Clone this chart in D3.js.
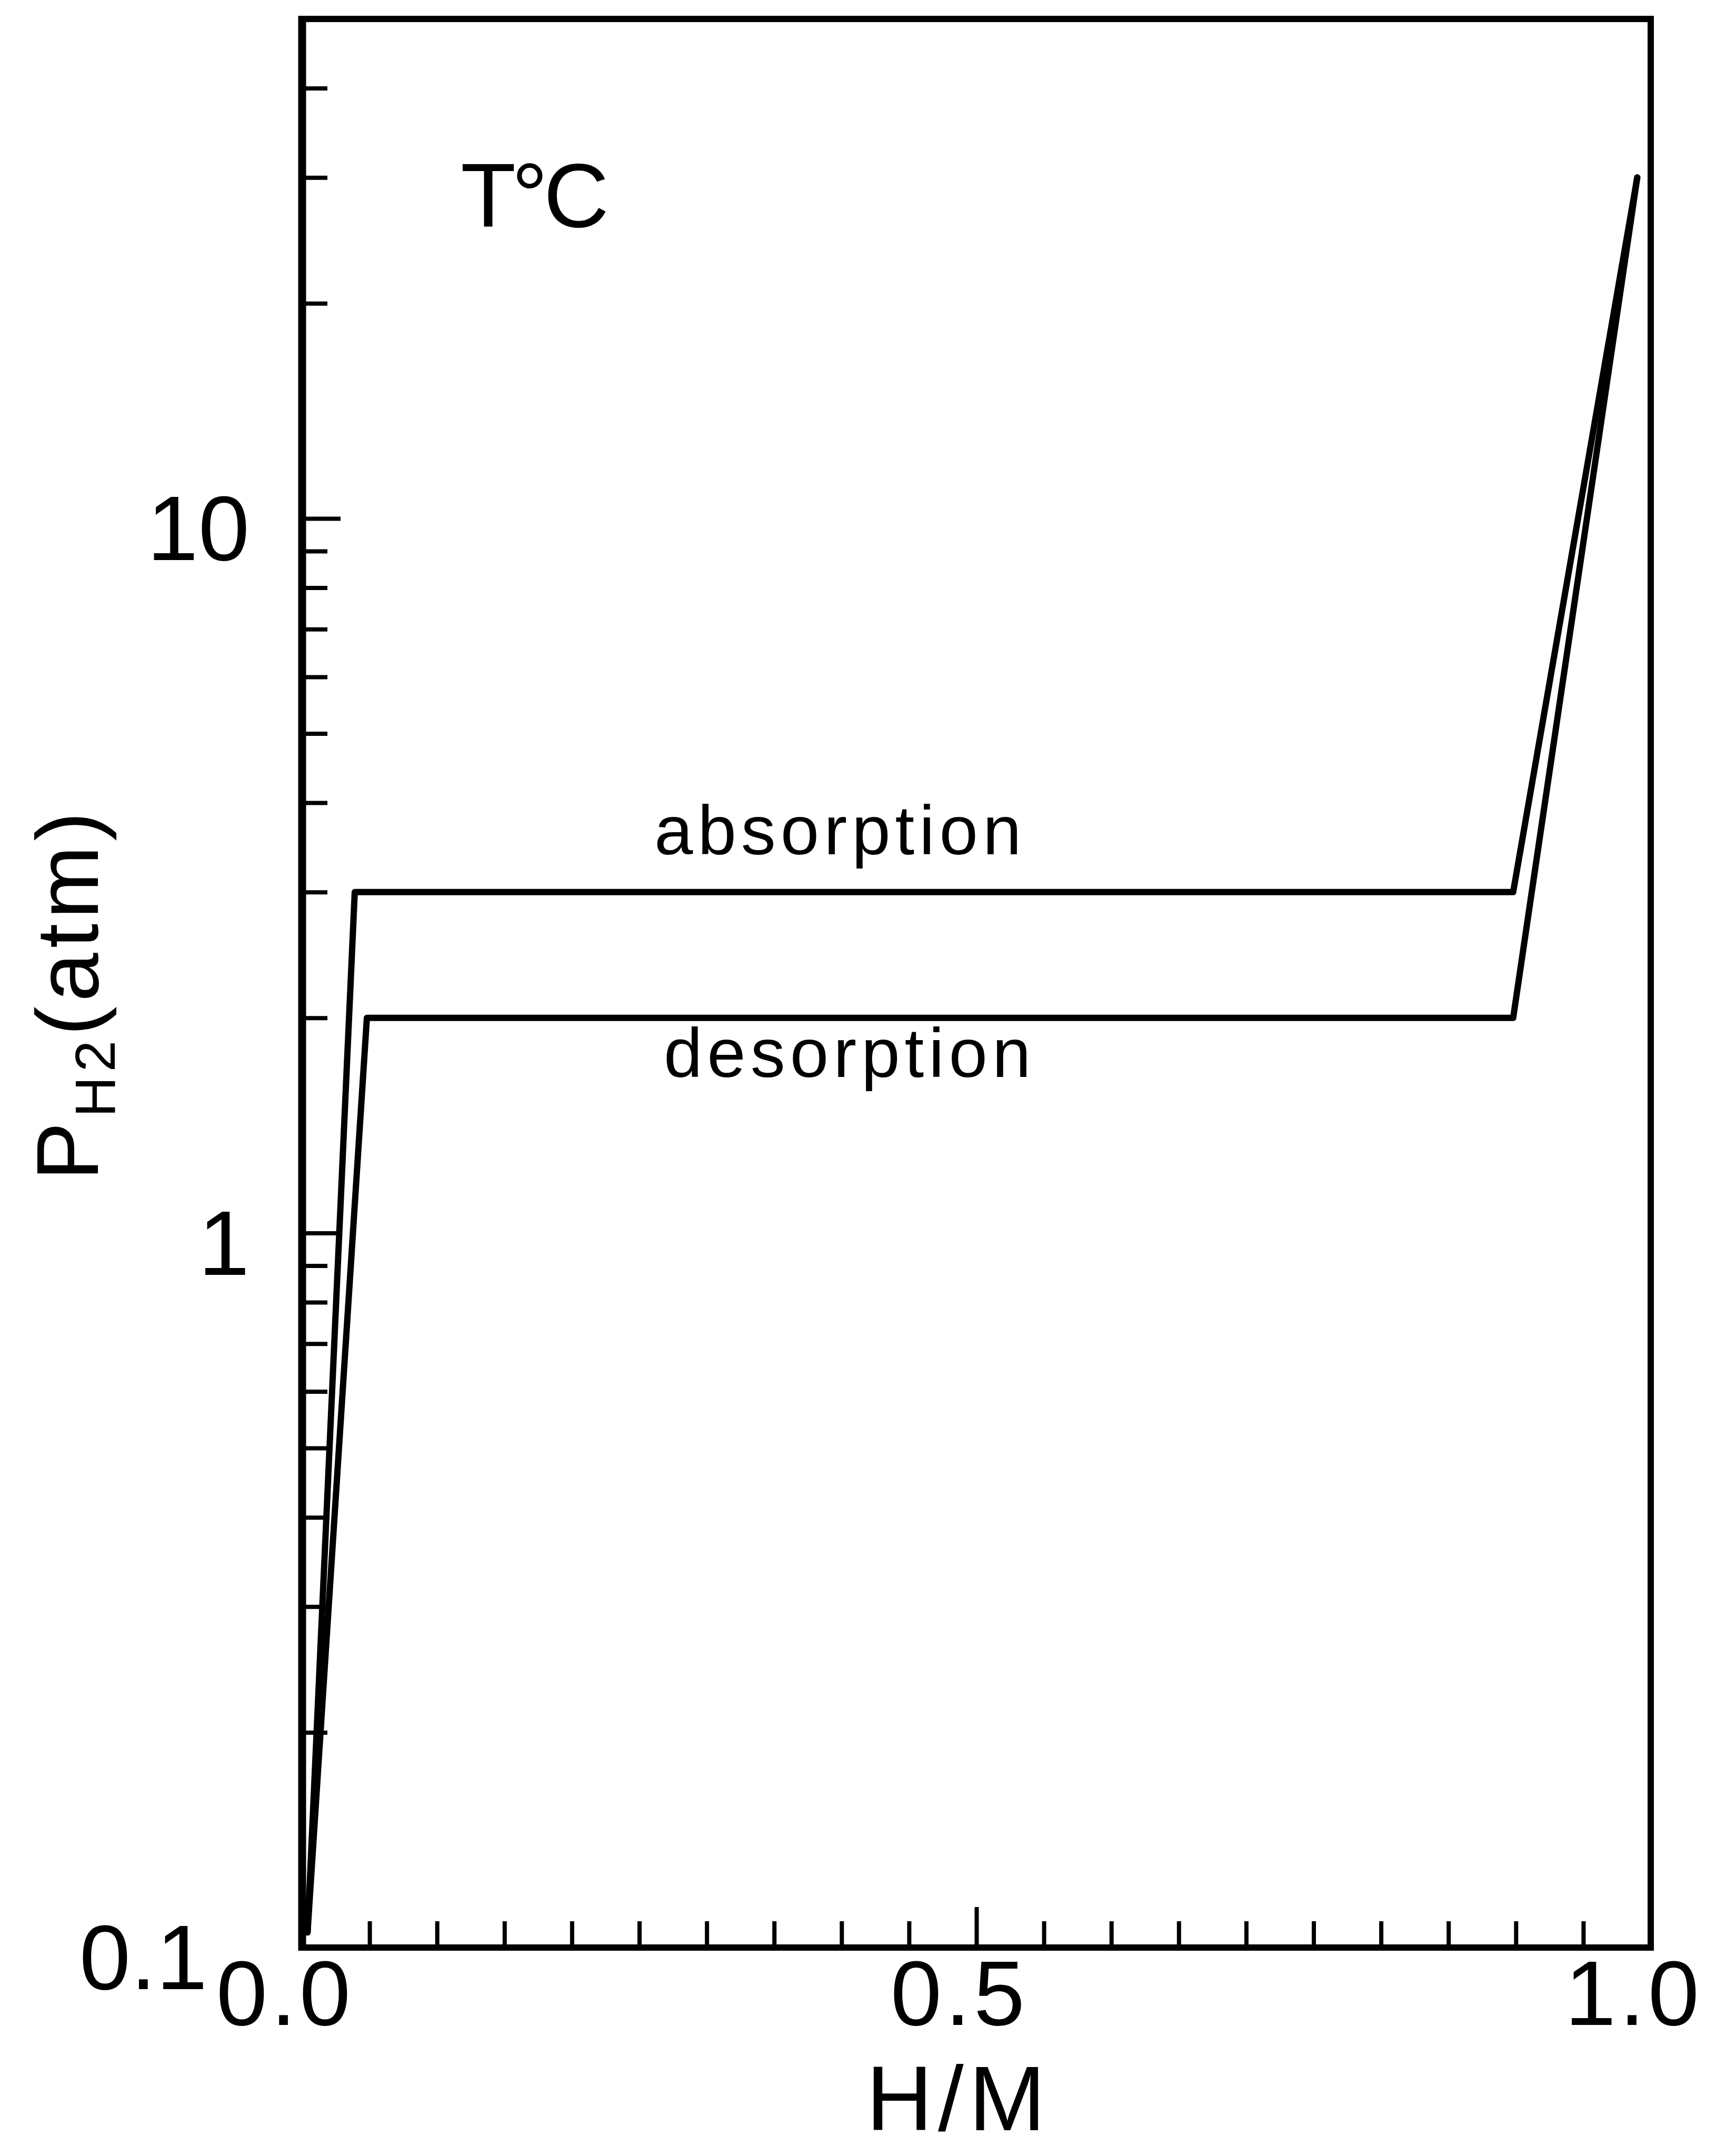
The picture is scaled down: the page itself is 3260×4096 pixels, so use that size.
<!DOCTYPE html>
<html>
<head>
<meta charset="utf-8">
<script src="https://cdn.jsdelivr.net/npm/d3@7"></script>
<style>
  body { margin: 0; background: #fff; }
  text { font-family: "Liberation Sans", Arial, sans-serif; fill: #000; }
</style>
</head>
<body>
<div id="chart"></div>
<script>
// curve data (H/M vs pressure in atm)
const absorptionHM = [0.004, 0.039, 0.898, 0.99];
const absorptionP = [0.105, 3, 3, 30];
const desorptionHM = [0.004, 0.048, 0.898, 0.99];
const desorptionP = [0.105, 2, 2, 30];

const xTicks = [0, 0.05, 0.1, 0.15, 0.2, 0.25, 0.3, 0.35, 0.4, 0.45, 0.5,
    0.55, 0.6, 0.65, 0.7, 0.75, 0.8, 0.85, 0.9, 0.95, 1];
const xMajor = [0.5];
const xLabels = [0, 0.5, 1];

const yTicks = [0.1, 0.2, 0.3, 0.4, 0.5, 0.6, 0.7, 0.8, 0.9, 1,
    2, 3, 4, 5, 6, 7, 8, 9, 10, 20, 30, 40];
const yMajor = [1, 10];
const yLabels = [0.1, 1, 10];

const width = 3260;
const height = 4096;
const margin = {left: 574, right: 124, top: 36, bottom: 396};

const svg = d3.select("#chart")
    .append("svg")
    .attr("width", width)
    .attr("height", height)
    .attr("viewBox", [0, 0, width, height]);

svg.append("rect").attr("width", width).attr("height", height).attr("fill", "#fff");

const x = d3.scaleLinear()
    .domain([0, 1])
    .range([margin.left, width - margin.right]);

const y = d3.scaleLog()
    .domain([0.1, 50])
    .range([height - margin.bottom, margin.top]);

// x axis, ticks pointing inward
const xAxis = svg.append("g")
    .attr("transform", `translate(0,${height - margin.bottom})`)
    .call(d3.axisBottom(x)
        .tickValues(xTicks)
        .tickSize(-50)
        .tickPadding(23)
        .tickFormat(d => xLabels.includes(d) ? d3.format(".1f")(d) : ""));
xAxis.select(".domain").remove();
xAxis.selectAll(".tick line")
    .attr("stroke-width", 8)
    .attr("y2", d => xMajor.includes(d) ? -77 : -50);
xAxis.selectAll(".tick text")
    .attr("x", -33)
    .style("font-size", "175px")
    .style("letter-spacing", "6px");

// y axis
const yAxis = svg.append("g")
    .attr("transform", `translate(${margin.left},0)`)
    .call(d3.axisLeft(y)
        .tickValues(yTicks)
        .tickSize(-48)
        .tickPadding(100)
        .tickFormat(d => yLabels.includes(d) ? String(d) : ""));
yAxis.select(".domain").remove();
yAxis.selectAll(".tick line")
    .attr("stroke-width", 8)
    .attr("x2", d => yMajor.includes(d) ? 73 : 48);
yAxis.selectAll(".tick text")
    .attr("dy", "0.45em")
    .attr("x", d => d === 0.1 ? -180 : -100)
    .style("font-size", "175px");

// frame
const x0 = x(0), x1 = x(1), y0 = y(0.1), y1 = y(50);
svg.append("path")
    .attr("d", `M${x1},${y0}H${x0}M${x0},${y1}H${x1}V${y0}`)
    .attr("fill", "none")
    .attr("stroke", "#000")
    .attr("stroke-width", 12)
    .attr("stroke-linecap", "square");
svg.append("line")
    .attr("x1", x0).attr("x2", x0)
    .attr("y1", y1 - 6).attr("y2", y0 + 6)
    .attr("stroke", "#000")
    .attr("stroke-width", 15);

// curves
const line = d3.line()
    .x(d => x(d[0]))
    .y(d => y(d[1]));

const curves = [d3.zip(absorptionHM, absorptionP), d3.zip(desorptionHM, desorptionP)];

svg.append("g")
    .selectAll("path")
    .data(curves)
    .join("path")
    .attr("d", line)
    .attr("fill", "none")
    .attr("stroke", "#000")
    .attr("stroke-width", 12)
    .attr("stroke-linejoin", "round")
    .attr("stroke-linecap", "round");

// curve labels
svg.append("text")
    .attr("x", x(0.399))
    .attr("y", y(3) - 72)
    .attr("text-anchor", "middle")
    .style("font-size", "132px")
    .style("letter-spacing", "9px")
    .text("absorption");

svg.append("text")
    .attr("x", x(0.406))
    .attr("y", y(2) + 112)
    .attr("text-anchor", "middle")
    .style("font-size", "132px")
    .style("letter-spacing", "9px")
    .text("desorption");

// temperature label
svg.append("text")
    .attr("x", 875)
    .attr("y", 431)
    .style("font-size", "172px")
    .style("letter-spacing", "-8px")
    .text("T°C");

// axis titles
svg.append("text")
    .attr("x", 1821)
    .attr("y", 4047)
    .attr("text-anchor", "middle")
    .style("font-size", "175px")
    .style("letter-spacing", "10px")
    .text("H/M");

const yTitle = svg.append("text")
    .attr("transform", "translate(186,1888) rotate(-90)")
    .attr("text-anchor", "middle")
    .style("font-size", "167px")
    .style("letter-spacing", "9px");
yTitle.append("tspan").text("P");
yTitle.append("tspan").attr("dy", 32).style("font-size", "107px").text("H2");
yTitle.append("tspan").attr("dy", -32).text("(atm)");
</script>
</body>
</html>
